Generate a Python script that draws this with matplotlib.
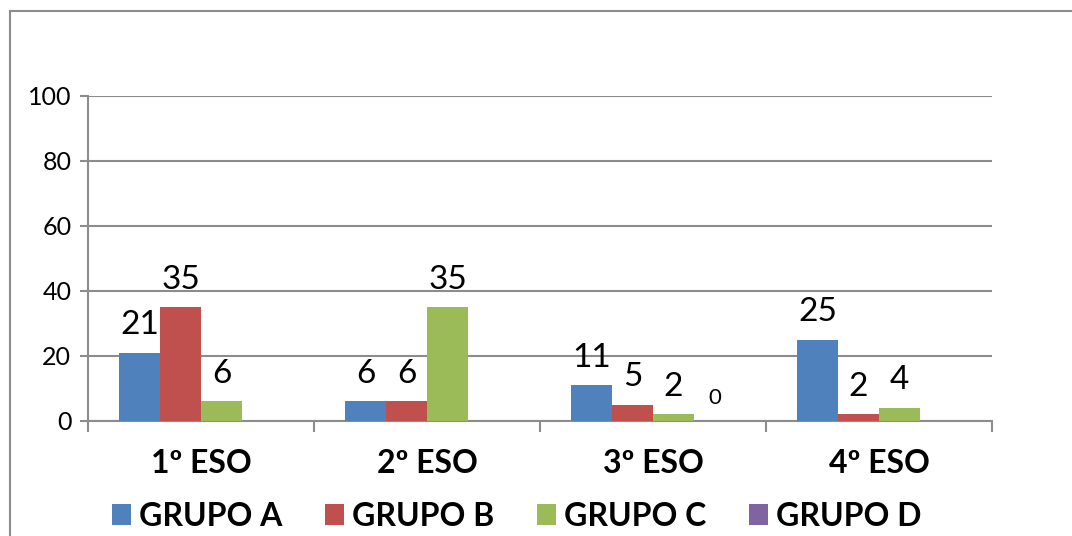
import numpy as np
import matplotlib.pyplot as plt
from matplotlib.lines import Line2D

# data
cursos = ["1º ESO", "2º ESO", "3º ESO", "4º ESO"]
grupos = ["GRUPO A", "GRUPO B", "GRUPO C", "GRUPO D"]
grupo_a = [21, 6, 11, 25]
grupo_b = [35, 6, 5, 2]
grupo_c = [6, 35, 2, 4]
grupo_d = [np.nan, np.nan, 0, np.nan]
colores = ["#4F81BD", "#C0504D", "#9BBB59", "#8064A2"]
yticks = [0, 20, 40, 60, 80, 100]

plt.rcParams['font.family'] = ['Lato', 'DejaVu Sans']
gris = "#8C8C8C"

fig = plt.figure(figsize=(10.72, 5.36), dpi=100)
ax = fig.add_axes([0.0821, 0.2146, 0.8433, 0.6063])

x = np.arange(len(cursos))
ancho = 0.1815
series = [grupo_a, grupo_b, grupo_c, grupo_d]
for i, (vals, col, nom) in enumerate(zip(series, colores, grupos)):
    pos = x - 1.5 * ancho + i * ancho
    bars = ax.bar(pos, np.nan_to_num(vals), ancho, color=col, label=nom, zorder=3)
    for p, v in zip(pos, vals):
        if np.isnan(v):
            continue
        size = 16 if v == 0 else 24
        ax.annotate(f"{v:g}", (p, v), xytext=(0, 9), textcoords="offset points",
                    ha="center", va="bottom", fontsize=size)

ax.set_xlim(-0.5, 3.5)
ax.set_ylim(0, 100)
ax.set_yticks(yticks)
ax.tick_params(axis='y', labelsize=18, length=6, width=1.5, color=gris, pad=6)
ax.yaxis.grid(True, color=gris, linewidth=1.5, zorder=0)

# category ticks between groups, labels at centers
ax.set_xticks(np.arange(-0.5, 4, 1))
ax.set_xticklabels([])
ax.set_xticks(x, minor=True)
ax.set_xticklabels(cursos, minor=True, fontsize=23, fontweight='bold')
ax.tick_params(axis='x', which='major', length=8, width=1.5, color=gris)
ax.tick_params(axis='x', which='minor', length=0, pad=20)

for s in ['top', 'right']:
    ax.spines[s].set_visible(False)
for s in ['left', 'bottom']:
    ax.spines[s].set_color(gris)
    ax.spines[s].set_linewidth(1.5)

ax.legend(loc='center', bbox_to_anchor=(0.4822, 0.037), bbox_transform=fig.transFigure,
          ncol=4, frameon=False, prop={'size': 23, 'weight': 'bold'},
          handlelength=0.6, handleheight=0.62, handletextpad=0.25, columnspacing=1.33,
          borderpad=0, borderaxespad=0)

# outer chart border
fig.add_artist(Line2D([0.0093, 0.0093], [0.979, -0.01], color=gris, linewidth=1.5))
fig.add_artist(Line2D([0.0093, 1.01], [0.979, 0.979], color=gris, linewidth=1.5))

fig.savefig("out.png", dpi=100)
